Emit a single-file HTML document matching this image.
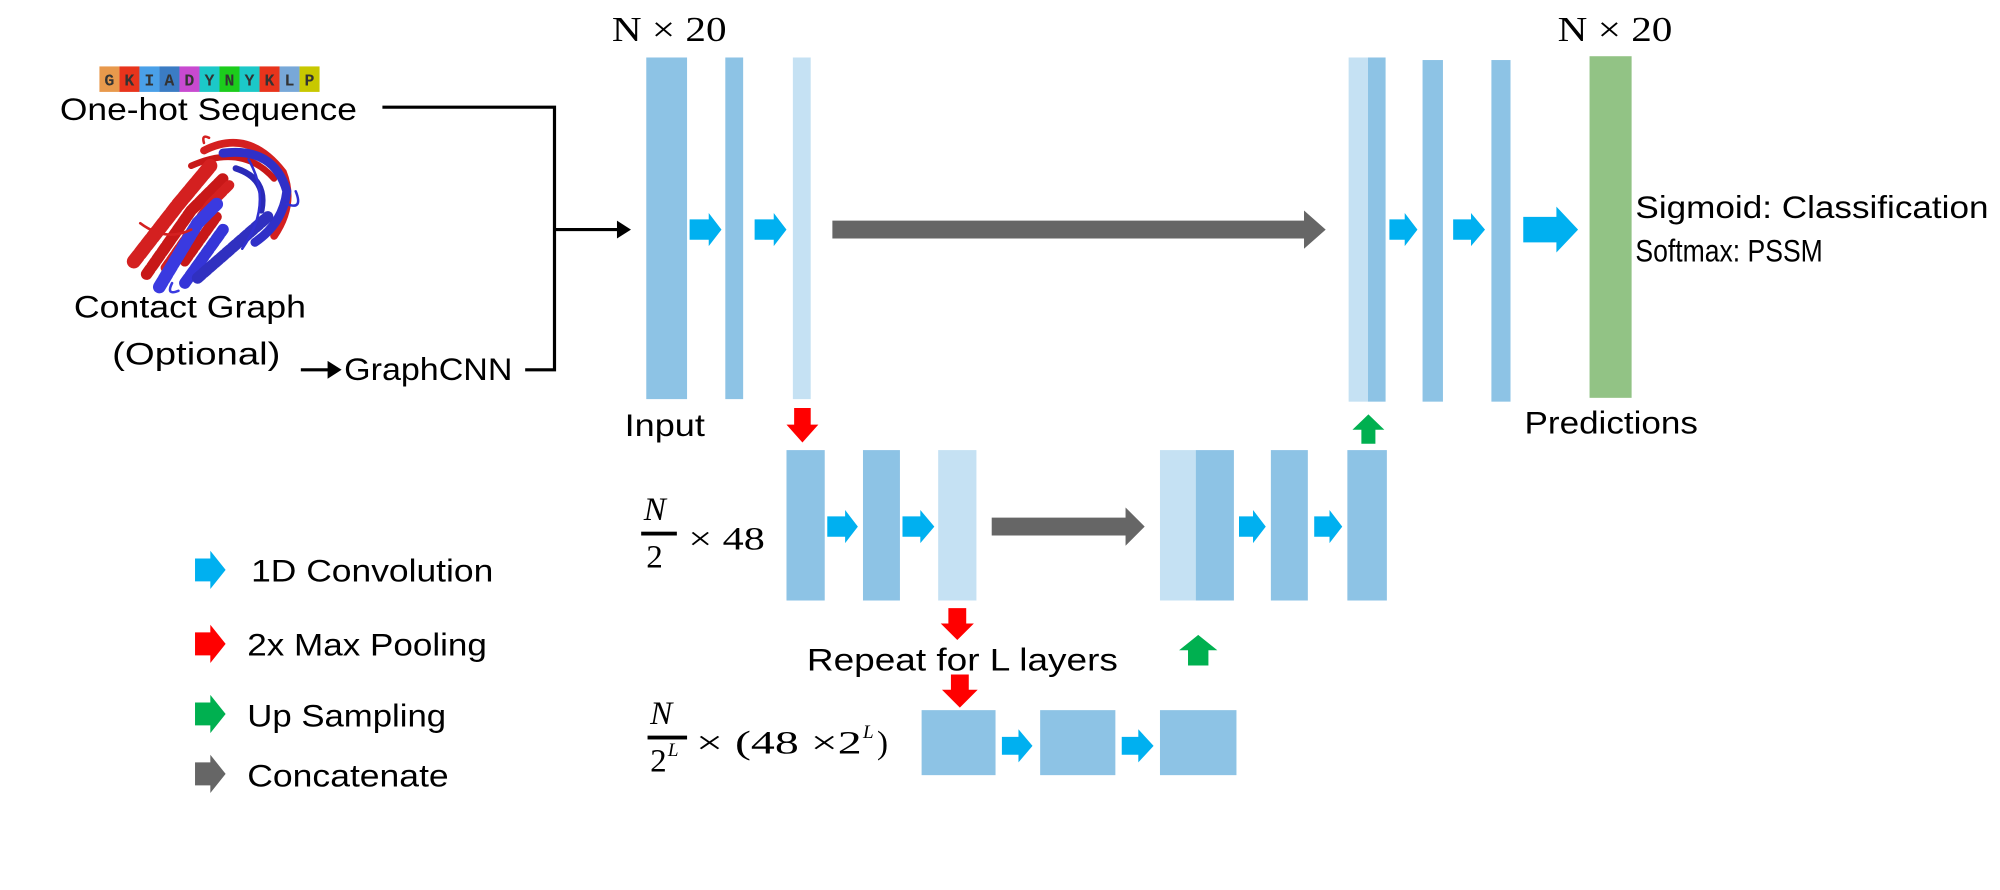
<!DOCTYPE html>
<html><head><meta charset="utf-8"><style>
html,body{margin:0;padding:0;background:#fff;width:2000px;height:890px;overflow:hidden}
svg{display:block}
.t{font-family:"Liberation Sans",sans-serif;font-size:25px;fill:#000}
.m{font-family:"Liberation Serif",serif;fill:#000}
</style></head><body>
<svg width="2000" height="890" viewBox="0 0 1569 698" xmlns="http://www.w3.org/2000/svg">
<g font-family="Liberation Mono,monospace" font-weight="bold" font-size="13" text-anchor="middle" fill="#333">
<rect x="78" y="52" width="15.7" height="20" fill="#e8994c"/><text x="85.8" y="67">G</text>
<rect x="93.7" y="52" width="15.7" height="20" fill="#e8341c"/><text x="101.5" y="67">K</text>
<rect x="109.4" y="52" width="15.7" height="20" fill="#4aa0e8"/><text x="117.2" y="67">I</text>
<rect x="125.1" y="52" width="15.7" height="20" fill="#3b7cc4"/><text x="132.9" y="67">A</text>
<rect x="140.8" y="52" width="15.7" height="20" fill="#c84ad0"/><text x="148.6" y="67">D</text>
<rect x="156.5" y="52" width="15.7" height="20" fill="#1cc8c8"/><text x="164.3" y="67">Y</text>
<rect x="172.2" y="52" width="15.7" height="20" fill="#1ccc1c"/><text x="180" y="67">N</text>
<rect x="187.9" y="52" width="15.7" height="20" fill="#1cc8c8"/><text x="195.7" y="67">Y</text>
<rect x="203.6" y="52" width="15.7" height="20" fill="#e8341c"/><text x="211.4" y="67">K</text>
<rect x="219.3" y="52" width="15.7" height="20" fill="#78a8d8"/><text x="227.1" y="67">L</text>
<rect x="235" y="52" width="15.7" height="20" fill="#c8c800"/><text x="242.8" y="67">P</text>
</g>
<text class="t" x="47" y="94" textLength="233" lengthAdjust="spacingAndGlyphs" font-size="27">One-hot Sequence</text>
<!-- protein -->
<g fill="none" stroke-linecap="round">
<path d="M160 118 Q195 100 222 135 Q232 160 215 185" stroke="#d42020" stroke-width="6"/>
<path d="M150 130 Q190 112 215 140" stroke="#c81818" stroke-width="5"/>
<path d="M105 205 L140 160 L165 130" stroke="#d42020" stroke-width="11" stroke-dasharray="6 2"/>
<path d="M115 215 L150 165 L175 140" stroke="#c81818" stroke-width="9" stroke-dasharray="5 2"/>
<path d="M130 210 L165 160 L180 145" stroke="#d42020" stroke-width="8" stroke-dasharray="5 2"/>
<path d="M145 205 L170 170" stroke="#c81818" stroke-width="8" stroke-dasharray="5 2"/>
<path d="M175 120 Q215 115 225 150 Q222 175 200 190" stroke="#3030c8" stroke-width="7"/>
<path d="M185 132 Q210 140 205 165" stroke="#2a2ab8" stroke-width="5"/>
<path d="M125 225 L155 175 L170 160" stroke="#3a3ae0" stroke-width="10" stroke-dasharray="5 2"/>
<path d="M145 222 L175 180" stroke="#3535d8" stroke-width="9" stroke-dasharray="5 2"/>
<path d="M155 218 L210 170" stroke="#3030c0" stroke-width="9" stroke-dasharray="4 2"/>
<path d="M140 228 Q130 232 135 222" stroke="#3a3ae0" stroke-width="2"/>
<path d="M110 175 Q130 190 150 180" stroke="#d42020" stroke-width="2"/>
<path d="M195 125 Q215 160 190 195" stroke="#3030d0" stroke-width="2"/>
<path d="M225 160 Q238 165 232 150" stroke="#3030d0" stroke-width="2"/>
<path d="M160 112 Q158 105 164 108" stroke="#d42020" stroke-width="2"/>
</g>
<text class="t" x="58" y="249" textLength="182" lengthAdjust="spacingAndGlyphs" font-size="27">Contact Graph</text>
<text class="t" x="88" y="286" textLength="132" lengthAdjust="spacingAndGlyphs" font-size="27">(Optional)</text>
<text class="t" x="270" y="298" textLength="132" lengthAdjust="spacingAndGlyphs" font-size="27">GraphCNN</text>
<g stroke="#000" stroke-width="2.5" fill="none">
<polyline points="300,84 435,84 435,290 412,290"/>
<line x1="435" y1="180" x2="485" y2="180"/>
<line x1="236" y1="290" x2="258" y2="290"/>
</g>
<polygon points="484,173 495,180 484,187" fill="#000"/>
<polygon points="257,283 268,290 257,297" fill="#000"/>
<text class="m" x="480" y="32" font-size="27" textLength="90" lengthAdjust="spacingAndGlyphs">N × 20</text>
<text class="m" x="1222" y="32" font-size="27" textLength="90" lengthAdjust="spacingAndGlyphs">N × 20</text>
<g fill="#8dc3e5">
<rect x="507" y="45" width="32" height="268"/>
<rect x="569" y="45" width="14" height="268"/>
<rect x="1073" y="45" width="14" height="270"/>
<rect x="1116" y="47" width="16" height="268"/>
<rect x="1170" y="47" width="15" height="268"/>
<rect x="617" y="353" width="30" height="118"/>
<rect x="677" y="353" width="29" height="118"/>
<rect x="938" y="353" width="30" height="118"/>
<rect x="997" y="353" width="29" height="118"/>
<rect x="1057" y="353" width="31" height="118"/>
<rect x="723" y="557" width="58" height="51"/>
<rect x="816" y="557" width="59" height="51"/>
<rect x="910" y="557" width="60" height="51"/>
</g>
<g fill="#c5e1f3">
<rect x="622" y="45" width="14" height="268"/>
<rect x="1058" y="45" width="15" height="270"/>
<rect x="736" y="353" width="30" height="118"/>
<rect x="910" y="353" width="28" height="118"/>
</g>
<rect x="1247" y="44" width="33" height="268" fill="#92c385"/>
<g fill="#00b0f0">
<polygon points="541,172 556,172 556,167 566,180 556,193 556,188 541,188"/>
<polygon points="592,172 607,172 607,167 617,180 607,193 607,188 592,188"/>
<polygon points="1090,172 1102,172 1102,167 1112,180 1102,193 1102,188 1090,188"/>
<polygon points="1140,172 1154,172 1154,167 1165,180 1154,193 1154,188 1140,188"/>
<polygon points="1195,170 1221,170 1221,162 1238,180 1221,198 1221,190 1195,190"/>
<polygon points="649,405 663,405 663,400 673,413 663,426 663,421 649,421"/>
<polygon points="708,405 722,405 722,400 733,413 722,426 722,421 708,421"/>
<polygon points="972,405 983,405 983,400 993,413 983,426 983,421 972,421"/>
<polygon points="1031,405 1043,405 1043,400 1053,413 1043,426 1043,421 1031,421"/>
<polygon points="786,578 799,578 799,572 810,585 799,598 799,592 786,592"/>
<polygon points="880,578 893,578 893,572 905,585 893,598 893,592 880,592"/>
<polygon points="153,438 165,438 165,432 177,447 165,462 165,456 153,456"/>
</g>
<g fill="#666">
<polygon points="653,173 1023,173 1023,165 1040,180 1023,195 1023,187 653,187"/>
<polygon points="778,406 883,406 883,398 898,413 883,428 883,420 778,420"/>
<polygon points="153,598 165,598 165,592 177,607 165,622 165,616 153,616"/>
</g>
<g fill="#ff0000">
<polygon points="623,320 636,320 636,333 642,333 629.5,347 617,333 623,333"/>
<polygon points="744,477 758,477 758,489 764,489 751,502 738,489 744,489"/>
<polygon points="746,529 760,529 760,541 767,541 753,555 739,541 746,541"/>
<polygon points="153,496 165,496 165,490 177,505 165,520 165,514 153,514"/>
</g>
<g fill="#00b050">
<polygon points="1073.5,325 1086,337 1079,337 1079,348 1068,348 1068,337 1061,337"/>
<polygon points="940,498 955,510 948,510 948,522 932,522 932,510 925,510"/>
<polygon points="153,551 165,551 165,545 177,560 165,575 165,569 153,569"/>
</g>
<text class="t" x="490" y="342" textLength="63" lengthAdjust="spacingAndGlyphs" font-size="27">Input</text>
<text class="t" x="1196" y="340" textLength="136" lengthAdjust="spacingAndGlyphs" font-size="27">Predictions</text>
<text class="t" x="1283" y="171" textLength="277" lengthAdjust="spacingAndGlyphs" font-size="27">Sigmoid: Classification</text>
<text class="t" x="1283" y="205" textLength="147" lengthAdjust="spacingAndGlyphs" font-size="27">Softmax: PSSM</text>
<text class="t" x="633" y="526" textLength="244" lengthAdjust="spacingAndGlyphs" font-size="27">Repeat for L layers</text>
<text class="t" x="197" y="456" textLength="190" lengthAdjust="spacingAndGlyphs" font-size="26">1D Convolution</text>
<text class="t" x="194" y="514" textLength="188" lengthAdjust="spacingAndGlyphs" font-size="26">2x Max Pooling</text>
<text class="t" x="194" y="570" textLength="156" lengthAdjust="spacingAndGlyphs" font-size="26">Up Sampling</text>
<text class="t" x="194" y="617" textLength="158" lengthAdjust="spacingAndGlyphs" font-size="26">Concatenate</text>
<text class="m" x="505" y="408" font-size="26" font-style="italic">N</text>
<rect x="503" y="417" width="28" height="3" fill="#000"/>
<text class="m" x="507" y="445" font-size="26">2</text>
<text class="m" x="540" y="431" font-size="26" textLength="60" lengthAdjust="spacingAndGlyphs">× 48</text>
<text class="m" x="510" y="568" font-size="26" font-style="italic">N</text>
<rect x="508" y="577" width="31" height="3" fill="#000"/>
<text class="m" x="510" y="605" font-size="26">2</text>
<text class="m" x="524" y="593" font-size="15" font-style="italic">L</text>
<text class="m" x="546" y="591" font-size="26" textLength="130" lengthAdjust="spacingAndGlyphs">× (48 ×2</text>
<text class="m" x="677" y="579" font-size="15" font-style="italic">L</text>
<text class="m" x="688" y="591" font-size="26">)</text>
</svg>
</body></html>
